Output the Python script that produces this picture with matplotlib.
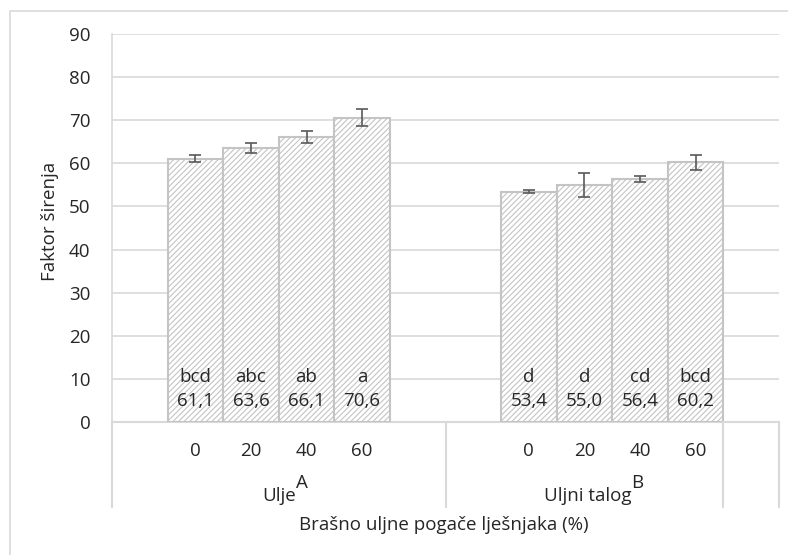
import numpy as np
import matplotlib
matplotlib.use('Agg')
import matplotlib.pyplot as plt
from matplotlib.patches import Rectangle
import matplotlib.transforms as mtransforms

plt.rcParams['font.family'] = ['Open Sans', 'DejaVu Sans']
plt.rcParams['hatch.color'] = '#c8c8c8'
plt.rcParams['hatch.linewidth'] = 0.8

# data
doses = ['0', '20', '40', '60']
groups = ['Ulje', 'Uljni talog']
group_sup = ['A', 'B']
ulje = [61.1, 63.6, 66.1, 70.6]
ulje_err = [0.85, 1.15, 1.4, 2.05]
ulje_let = ['bcd', 'abc', 'ab', 'a']
talog = [53.4, 55.0, 56.4, 60.2]
talog_err = [0.35, 2.7, 0.75, 1.75]
talog_let = ['d', 'd', 'cd', 'bcd']

grey = '#d9d9d9'
tc = '#262626'
fs = 13.5

fig = plt.figure(figsize=(7.88, 5.55), dpi=100)
W, H = 788, 555
ax = fig.add_axes([112 / W, 1 - 422 / H, (779 - 112) / W, (422 - 34) / H])

# outer chart frame
fig.patches.append(Rectangle((10 / W, -0.02), 1.0, 1 - 10.5 / H + 0.02,
                             transform=fig.transFigure, fill=False,
                             edgecolor=grey, lw=1.2))

# 12 category slots: blank,4 bars,blank | blank,4 bars | blank
xa = np.arange(1, 5)
xb = np.arange(7, 11)

ax.bar(xa, ulje, width=1.0, color='white', edgecolor='#c4c4c4', lw=1.5,
       hatch='//////', zorder=2)
ax.bar(xb, talog, width=1.0, color='white', edgecolor='#c4c4c4', lw=1.5,
       hatch='//////', zorder=2)
ax.errorbar(xa, ulje, yerr=ulje_err, fmt='none', ecolor='#595959',
            elinewidth=1.2, capsize=4, capthick=1.2, zorder=3)
ax.errorbar(xb, talog, yerr=talog_err, fmt='none', ecolor='#595959',
            elinewidth=1.2, capsize=4, capthick=1.2, zorder=3)

for xs, vals, lets in [(xa, ulje, ulje_let), (xb, talog, talog_let)]:
    for x, v, l in zip(xs, vals, lets):
        ax.text(x, 10.4, l, ha='center', va='center', fontsize=fs, color=tc, zorder=4)
        ax.text(x, 4.9, f'{v:.1f}'.replace('.', ','), ha='center', va='center',
                fontsize=fs, color=tc, zorder=4)

ax.set_xlim(-0.5, 11.5)
ax.set_ylim(0, 90)
ax.set_yticks(np.arange(0, 91, 10))
ax.yaxis.grid(True, color=grey, lw=1.2)
ax.set_axisbelow(True)
ax.tick_params(axis='y', length=0, pad=15.5, labelsize=fs, labelcolor=tc)
ax.set_xticks([])
for s in ['top', 'right', 'bottom']:
    ax.spines[s].set_visible(False)
ax.spines['left'].set_color(grey)
ax.spines['left'].set_linewidth(1.2)

trans = mtransforms.blended_transform_factory(ax.transData, ax.transAxes)
# baseline and group dividers
ax.plot([-0.5, 11.5], [0, 0], transform=trans, color=grey, lw=1.5, clip_on=False, zorder=1)
for xd in [-0.5, 5.5, 10.5, 11.5]:
    ax.plot([xd, xd], [0, -0.219], transform=trans, color=grey, lw=1.5, clip_on=False)

for x, d in zip(np.concatenate([xa, xb]), doses * 2):
    ax.text(x, -0.074, d, transform=trans, ha='center', va='center', fontsize=fs, color=tc)

for xs, g, sup in zip([2.81, 8.84], groups, group_sup):
    ax.text(xs, -0.19, g, transform=trans, ha='right', va='center', fontsize=fs, color=tc)
    ax.text(xs, -0.156, sup, transform=trans, ha='left', va='center', fontsize=fs, color=tc)

fig.text(444 / W, 1 - 525 / H, 'Brašno uljne pogače lješnjaka (%)', ha='center', va='center',
         fontsize=fs, color=tc)
fig.text(50 / W, 1 - 221 / H, 'Faktor širenja', ha='center', va='center', rotation=90,
         fontsize=fs, color=tc)

fig.savefig('out.png', dpi=100)
